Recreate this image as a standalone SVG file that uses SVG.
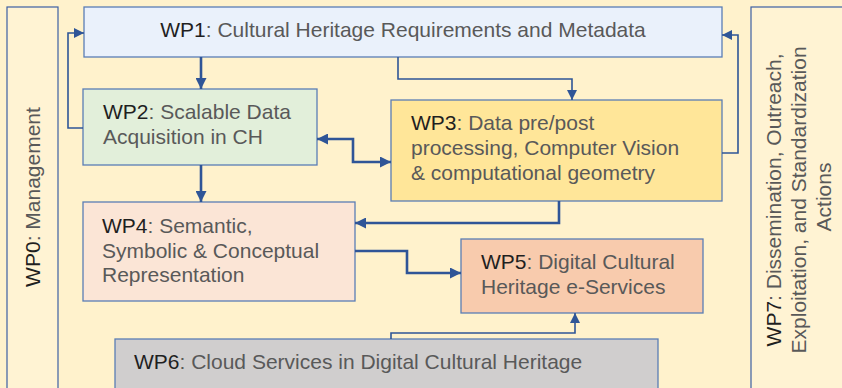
<svg xmlns="http://www.w3.org/2000/svg" width="842" height="388" viewBox="0 0 842 388">
<defs>
<style>
.box{stroke:#5a7db5;stroke-width:1.3}
.side{fill:#fff3d3;stroke:#3d5fa3;stroke-width:1.2}
text{font-family:"Liberation Sans",Arial,Helvetica,sans-serif;font-size:21px;fill:#595959}
.wp{fill:#1f1f1f}
.thick{fill:none;stroke:#2f5597;stroke-width:2.6}
.thin{fill:none;stroke:#2f5597;stroke-width:1.6}
</style>
<marker id="ah" markerUnits="userSpaceOnUse" markerWidth="11" markerHeight="11" viewBox="0 0 10 10" refX="10" refY="5" orient="auto-start-reverse">
<path d="M0,0 L10,5 L0,10 z" fill="#2f5597"/>
</marker>
<marker id="ahs" markerUnits="userSpaceOnUse" markerWidth="10" markerHeight="10" viewBox="0 0 10 10" refX="10" refY="5" orient="auto-start-reverse">
<path d="M0,0 L10,5 L0,10 z" fill="#2f5597"/>
</marker>
</defs>
<rect x="0" y="0" width="842" height="388" fill="#fff2cc"/>

<g id="wp0">
<rect class="side" x="7" y="7" width="51" height="390"/>
<text transform="rotate(-90)" x="-197" y="40" text-anchor="middle"><tspan class="wp">WP0</tspan>: Management</text>
</g>

<g id="wp7">
<rect class="side" x="751" y="7" width="100" height="390"/>
<text transform="rotate(-90)" text-anchor="middle">
<tspan x="-197" y="781"><tspan class="wp">WP7</tspan>: Dissemination, Outreach,</tspan>
<tspan x="-197" y="806">Exploitation, and Standardization</tspan>
<tspan x="-197" y="831">Actions</tspan>
</text>
</g>

<g id="wp1">
<rect class="box" x="84" y="7" width="638" height="50" fill="#eaf1fb"/>
<text x="403" y="37" text-anchor="middle"><tspan class="wp">WP1</tspan>: Cultural Heritage Requirements and Metadata</text>
</g>

<g id="wp2">
<rect class="box" x="83" y="89" width="234" height="76" fill="#e2efda"/>
<text><tspan x="103" y="119"><tspan class="wp">WP2</tspan>: Scalable Data</tspan><tspan x="103" y="144">Acquisition in CH</tspan></text>
</g>

<g id="wp3">
<rect class="box" x="391" y="100" width="331" height="101" fill="#ffe699"/>
<text><tspan x="411" y="130"><tspan class="wp">WP3</tspan>: Data pre/post</tspan><tspan x="411" y="155">processing, Computer Vision</tspan><tspan x="411" y="180">&amp; computational geometry</tspan></text>
</g>

<g id="wp4">
<rect class="box" x="83" y="202" width="272" height="99" fill="#fbe5d6"/>
<text><tspan x="102" y="233"><tspan class="wp">WP4</tspan>: Semantic,</tspan><tspan x="102" y="258">Symbolic &amp; Conceptual</tspan><tspan x="102" y="282">Representation</tspan></text>
</g>

<g id="wp5">
<rect class="box" x="461" y="239" width="242" height="74" fill="#f8cbad"/>
<text><tspan x="481" y="269"><tspan class="wp">WP5</tspan>: Digital Cultural</tspan><tspan x="481" y="294">Heritage e-Services</tspan></text>
</g>

<g id="wp6">
<rect class="box" x="115" y="339" width="543" height="60" fill="#d0cece"/>
<text x="134" y="369"><tspan class="wp">WP6</tspan>: Cloud Services in Digital Cultural Heritage</text>
</g>

<g id="connectors">
<path class="thick" d="M201,57 V89" marker-end="url(#ah)"/>
<path class="thin" d="M83,128 H68 V33 H84" marker-end="url(#ahs)"/>
<path class="thin" d="M398,57 V79 H572 V100" marker-end="url(#ahs)"/>
<path class="thick" d="M317,139 H353 V162 H391" marker-start="url(#ah)" marker-end="url(#ah)"/>
<path class="thick" d="M201,165 V202" marker-end="url(#ah)"/>
<path class="thick" d="M559,201 V223 H355" marker-end="url(#ah)"/>
<path class="thick" d="M355,251 H407 V273 H461" marker-end="url(#ah)"/>
<path class="thin" d="M391,339 V333 H575 V313" marker-end="url(#ahs)"/>
<path class="thin" d="M722,153 H738 V35 H722" marker-end="url(#ahs)"/>
</g>
</svg>
